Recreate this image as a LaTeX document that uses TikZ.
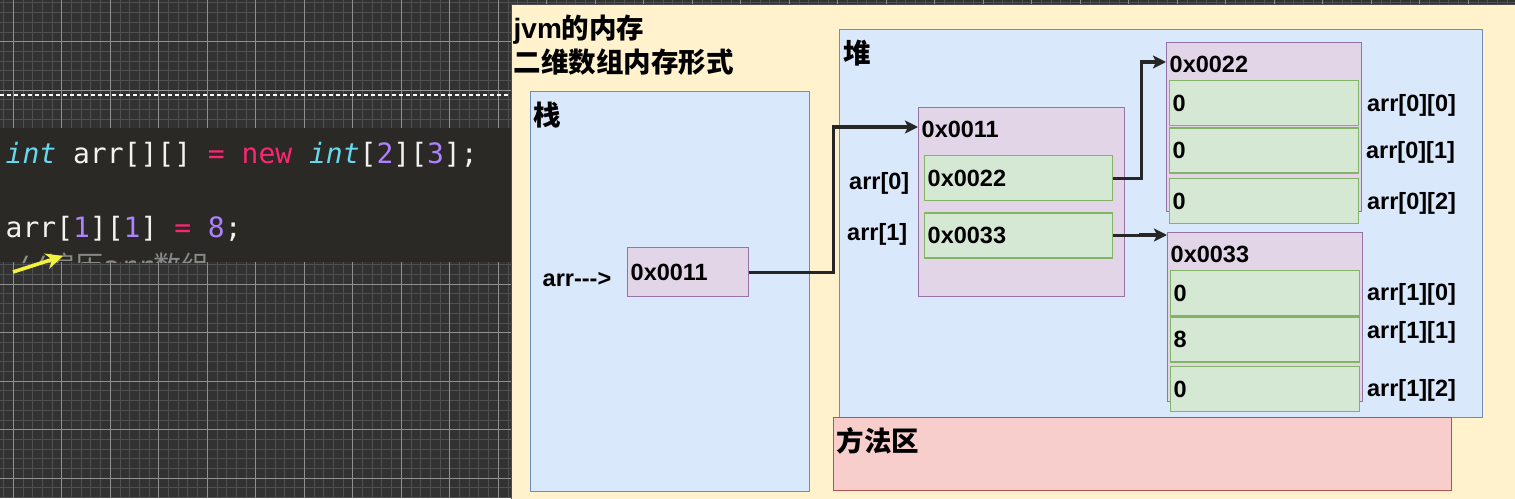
\documentclass[tikz,border=0pt]{standalone}
\usepackage{xcolor}
\usepackage{fontspec}
\setmainfont{Liberation Sans}
\newfontfamily\cjk{Noto Sans CJK SC}
\newfontfamily\codefont{DejaVu Sans Mono}
\usepackage{tikz}
\usetikzlibrary{arrows.meta,positioning}

\definecolor{gridbg}{HTML}{323232}
\definecolor{minorln}{HTML}{505050}
\definecolor{majorln}{HTML}{909090}
\definecolor{codebg}{HTML}{2A2926}
\definecolor{codetxt}{HTML}{F2F2EE}
\definecolor{kw}{HTML}{66D9EF}
\definecolor{op}{HTML}{F92672}
\definecolor{num}{HTML}{AE81FF}
\definecolor{cmt}{HTML}{8A8A8A}
\definecolor{hlyellow}{HTML}{F2F23A}
\definecolor{panelfill}{HTML}{FFF2CC}
\definecolor{stackfill}{HTML}{DAE8FC}
\definecolor{stackline}{HTML}{6C8EBF}
\definecolor{purplefill}{HTML}{E1D5E7}
\definecolor{purpleline}{HTML}{9673A6}
\definecolor{cellfill}{HTML}{D5E8D4}
\definecolor{cellline}{HTML}{82B366}
\definecolor{methodfill}{HTML}{F8CECC}
\definecolor{methodline}{HTML}{B85450}

\newcommand\zh[1]{{\cjk\bfseries\fontsize{27.5}{32}\selectfont #1}}

\begin{document}
\begin{tikzpicture}[x=1pt, y=-1pt, line width=1.4pt,
    every node/.style={inner sep=0pt, font=\bfseries\fontsize{23.5}{28}\selectfont},
    area/.style={rectangle, draw, anchor=north west},
    arraybox/.style={area, draw=purpleline, fill=purplefill},
    cell/.style={rectangle, draw=cellline, fill=cellfill, inner xsep=3pt, text width=183pt, minimum height=45pt, align=left},
    codeline/.style={anchor=base west, text=codetxt, font=\codefont\fontsize{28}{32}\selectfont},
    ptr/.style={-{Stealth[length=13pt, width=13pt, inset=3pt]}, line width=3.2pt, draw=black!85},
    hl/.style={-{Stealth[length=17pt, width=16pt]}, line width=3.6pt, draw=hlyellow}]
    \useasboundingbox (0,0) rectangle (1515,498);

    % Editor grid
    \fill[gridbg] (0,0) rectangle (1515,498);
    \foreach \k in {0,...,156} \draw[minorln, line width=0.9pt] ({3.6+9.7*\k},0) -- ++(0,498);
    \foreach \k in {0,...,51} \draw[minorln, line width=0.9pt] (0,{2.9+9.7*\k}) -- ++(1515,0);
    \foreach \k in {0,...,31} \draw[majorln, line width=1.1pt] ({13.3+48.5*\k},0) -- ++(0,498);
    \foreach \k in {0,...,10} \draw[majorln, line width=1.1pt] (0,{41.7+48.5*\k}) -- ++(1515,0);
    \draw[white!75, line width=1.2pt, dash pattern=on 4pt off 3pt] (0,95) -- (511,95);

    % Code
    \fill[codebg] (0,128) rectangle (511,262);
    \node[codeline] (line1) at (5,163) {\textcolor{kw}{\itshape int} arr[][] \textcolor{op}{=} \textcolor{op}{new} \textcolor{kw}{\itshape int}[\textcolor{num}{2}][\textcolor{num}{3}];};
    \node[codeline] (line2) at (5,237) {arr[\textcolor{num}{1}][\textcolor{num}{1}] \textcolor{op}{=} \textcolor{num}{8};};
    \begin{scope}
        \clip (0,128) rectangle (511,262);
        \node[codeline, text=cmt] (cmt) at (13,276) {//{\cjk 遍历}arr{\cjk 数组}};
    \end{scope}
    \coordinate (hlfrom) at (13,272);
    \coordinate (hlto) at (63,256);
    \draw[hl] (hlfrom) -- (hlto);

    % JVM memory
    \node[area, draw=black!70, line width=1pt, fill=panelfill, minimum width=1004pt, minimum height=496pt] (jvm) at (511,4) {};
    \node[anchor=west, font=\bfseries\fontsize{28}{32}\selectfont] (title1) at ([xshift=2pt,yshift=-26pt]jvm.north west) {jvm\zh{的内存}};
    \node[anchor=west] (title2) at ([xshift=2pt,yshift=-58pt]jvm.north west) {\zh{二维数组内存形式}};

    % Stack
    \node[area, draw=stackline, fill=stackfill, minimum width=279pt, minimum height=400pt] (stack) at (530,91) {};
    \node[anchor=west] (stacklbl) at ([xshift=3pt,yshift=-24pt]stack.north west) {\zh{栈}};
    \node[cell, draw=purpleline, fill=purplefill, text width=115pt, minimum height=49pt, anchor=north west] (s11) at (627,247) {0x0011};
    \node[left=15pt of s11, yshift=-7pt] (arrlbl) {arr-{}-{}->};

    % Heap
    \node[area, draw=stackline, fill=stackfill, minimum width=643pt, minimum height=388pt] (heap) at (839,29) {};
    \node[anchor=west] (heaplbl) at ([xshift=4pt,yshift=-24pt]heap.north west) {\zh{堆}};

    % Outer array
    \node[arraybox, minimum width=206pt, minimum height=189pt] (a11) at (918,107) {};
    \node[anchor=west] (t11) at ([xshift=3pt,yshift=-22pt]a11.north west) {0x0011};
    \node[cell, text width=182pt, anchor=north west] (c22) at (924,155) {0x0022};
    \node[cell, text width=182pt, below=11pt of c22] (c33) {0x0033};
    \node[left=14pt of c22, yshift=-5pt] (l0) {arr[0]};
    \node[left=16pt of c33, yshift=1pt] (l1) {arr[1]};

    % Inner array arr[0]
    \node[arraybox, minimum width=195pt, minimum height=169pt] (a22) at (1166,42) {};
    \node[anchor=west] (t22) at ([xshift=3pt,yshift=-22pt]a22.north west) {0x0022};
    \node[cell, anchor=north west] (c00) at (1169,80) {0};
    \node[cell, below=1pt of c00] (c01) {0};
    \node[cell, below=4pt of c01] (c02) {0};
    \node[right=7pt of c00, yshift=-2pt] (l00) {arr[0][0]};
    \node[right=6pt of c01, yshift=-2pt] (l01) {arr[0][1]};
    \node[right=7pt of c02, yshift=-2pt] (l02) {arr[0][2]};

    % Inner array arr[1]
    \node[arraybox, minimum width=195pt, minimum height=169pt] (a33) at (1167,232) {};
    \node[anchor=west] (t33) at ([xshift=3pt,yshift=-22pt]a33.north west) {0x0033};
    \node[cell, anchor=north west] (c10) at (1170,270) {0};
    \node[cell, below=0pt of c10] (c11) {8};
    \node[cell, below=3pt of c11] (c12) {0};
    \node[right=6pt of c10, yshift=-1pt] (l10) {arr[1][0]};
    \node[right=6pt of c11, yshift=7pt] (l11) {arr[1][1]};
    \node[right=6pt of c12, yshift=-1pt] (l12) {arr[1][2]};

    % Method area
    \node[area, draw=methodline, fill=methodfill, minimum width=618pt, minimum height=73pt] (method) at (833,417) {};
    \node[anchor=west] (methodlbl) at ([xshift=3pt,yshift=-24pt]method.north west) {\zh{方法区}};

    % References
    \draw[ptr] (s11.east) -- ++(84,0) |- ([yshift=-20pt]a11.north west);
    \draw[ptr] (c22.east) -- ++(28,0) |- ([yshift=-20pt]a22.north west);
    \draw[ptr] (c33.east) -- ++(27,0) |- ([yshift=-3pt]a33.north west);
\end{tikzpicture}
\end{document}
